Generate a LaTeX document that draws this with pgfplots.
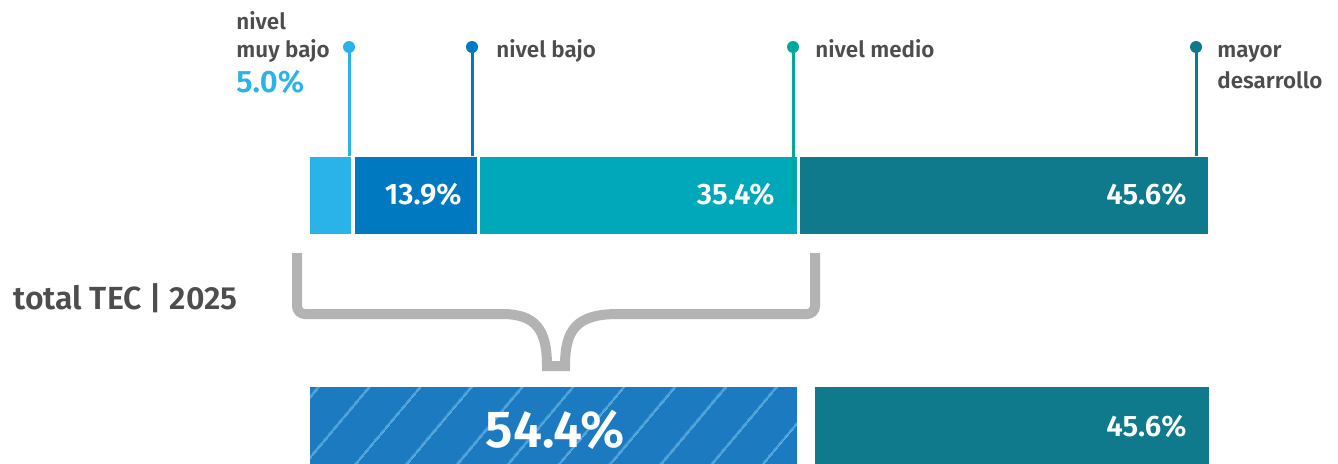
\documentclass[border=0pt]{standalone}
\usepackage{pgfplots}
\pgfplotsset{compat=1.18}
\usepackage{fontspec}
\setmainfont{Fira Sans}[BoldFont={Fira Sans SemiBold}]
\usetikzlibrary{patterns.meta}

\definecolor{muybajo}{HTML}{29B3E8}
\definecolor{bajo}{HTML}{0079C1}
\definecolor{medio}{HTML}{00A8B9}
\definecolor{mayor}{HTML}{0E7A8B}
\definecolor{mediodot}{HTML}{00A99B}
\definecolor{hatchbg}{HTML}{1C7BC0}
\definecolor{hatchln}{HTML}{4EA7DE}
\definecolor{txt}{HTML}{4D4D4D}
\definecolor{brace}{HTML}{B3B3B3}

\newcommand{\lab}{\bfseries\fontsize{11.2}{13}\selectfont}
\newcommand{\val}{\bfseries\fontsize{14.8}{17}\selectfont}

\begin{document}
\begin{tikzpicture}
\begin{axis}[
  width=669pt, height=231.5pt, scale only axis,
  xmin=-34.108, xmax=114.064, ymin=0, ymax=463, y dir=reverse,
  hide axis, clip=false,
  xbar stacked, bar width=81,
  every axis plot/.append style={draw=white, line width=1.8pt},
]
% rows: 195.5 = todas las categorias, 425.5 = agrupado
\addplot[fill=muybajo] coordinates {(5.0,195.5) (0,425.5)};
\addplot[fill=bajo] coordinates {(13.9,195.5) (0,425.5)};
\addplot[fill=hatchbg, postaction={pattern={Lines[angle=50, distance=19.5pt, line width=1pt]}, pattern color=hatchln}]
  coordinates {(0,195.5) (54.4,425.5)};
\addplot[fill=medio] coordinates {(35.4,195.5) (0,425.5)};
\addplot[draw=none, fill=none] coordinates {(0,195.5) (1.5,425.5)};
\addplot[fill=mayor] coordinates {(45.6,195.5) (44.1,425.5)};
\coordinate (o) at (axis cs:-34.108,0);
\end{axis}

\begin{scope}[shift={(o)}, x=0.5pt, y=-0.5pt]
  % llave
  \draw[brace, line width=5pt, line cap=butt]
    (297,253) [rounded corners=4pt] -- (297,314) -- (494,314) [sharp corners]
    .. controls (536,314) and (547,330) .. (547,366) -- (565,366)
    .. controls (565,330) and (576,314) .. (618,314) [rounded corners=4pt] -- (815,314) -- (815,253);

  % marcadores
  \draw[muybajo, line width=1.5pt] (349,47) -- (349,156);
  \fill[muybajo] (349,47) circle[radius=3pt];
  \draw[bajo, line width=1.5pt] (472,47) -- (472,156);
  \fill[bajo] (472,47) circle[radius=3pt];
  \draw[mediodot, line width=1.5pt] (793,47) -- (793,205);
  \fill[mediodot] (793,47) circle[radius=3pt];
  \draw[mayor, line width=1.5pt] (1196,47) -- (1196,156);
  \fill[mayor] (1196,47) circle[radius=3pt];

  \begin{scope}[every node/.style={inner sep=0pt, text=txt}]
    \node[anchor=base west, font=\lab] at (236,29) {nivel};
    \node[anchor=base west, font=\lab] at (236,57) {muy bajo};
    \node[anchor=base west, font=\bfseries\fontsize{15.5}{17}\selectfont, text=muybajo] at (236,92) {5.0\%};
    \node[anchor=base west, font=\lab] at (496,57) {nivel bajo};
    \node[anchor=base west, font=\lab] at (815,57) {nivel medio};
    \node[anchor=base west, font=\lab] at (1217,57) {mayor};
    \node[anchor=base west, font=\lab] at (1217,88) {desarrollo};

    \node[anchor=base east, font=\val, text=white] at (462,204) {13.9\%};
    \node[anchor=base east, font=\val, text=white] at (775,204) {35.4\%};
    \node[anchor=base east, font=\val, text=white] at (1187,204) {45.6\%};
    \node[anchor=base east, font=\val, text=white] at (1187,436) {45.6\%};
    \node[anchor=base, font=\bfseries\fontsize{26}{30}\selectfont, text=white] at (555,447) {54.4\%};

    \node[anchor=base west, font=\bfseries\fontsize{16}{19}\selectfont] at (13,309) {total TEC | 2025};
  \end{scope}

  \pgfresetboundingbox
  \path (0,0) rectangle (1338,463);
\end{scope}
\end{tikzpicture}
\end{document}
